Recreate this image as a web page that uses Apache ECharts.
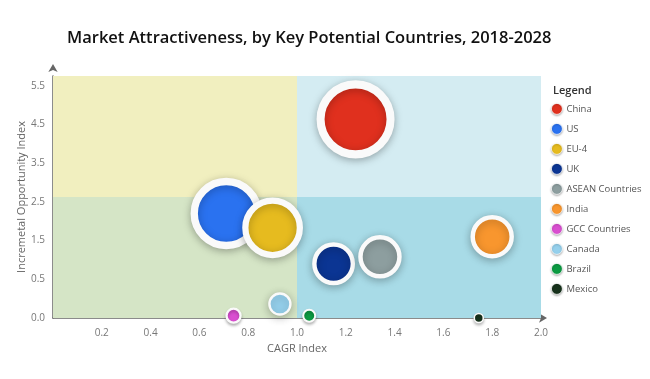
<!DOCTYPE html>
<html>
<head>
<meta charset="utf-8">
<script src="https://cdn.jsdelivr.net/npm/echarts@6/dist/echarts.min.js"></script>
<style>html,body{margin:0;padding:0;background:#fff}#c{width:650px;height:379px}</style>
</head>
<body>
<div id="c"></div>
<script>
// ---- data ----
const countries = ['China','US','EU-4','UK','ASEAN Countries','India','GCC Countries','Canada','Brazil','Mexico'];
const cagrIndex = [1.24, 0.71, 0.90, 1.15, 1.34, 1.80, 0.74, 0.93, 1.05, 1.745];
const opportunityIndex = [4.63, 2.20, 1.83, 0.90, 1.08, 1.60, 0.03, 0.18, 0.03, 0.0];
const marketSize = [7.0, 6.4, 5.45, 3.85, 3.9, 3.9, 1.4, 2.1, 1.2, 0.9];
const xTickLabels = ['0.2','0.4','0.6','0.8','1.0','1.2','1.4','1.6','1.8','2.0'];
const yTickLabels = ['0.0','0.5','1.5','2.5','3.5','4.5','5.5'];

const palette = ['#e0301e','#2a72f0','#e6bb1f','#0b3593','#8d9e9f','#f8962e','#d94fd0','#95d0ec','#0c9a42','#17321c'];

// the chart's y axis is labelled 0.0, 0.5, 1.5, 2.5 ... at equal steps
function toAxisY(v){ return v <= 0.5 ? v * 2 : v + 0.5; }

const chart = echarts.init(document.getElementById('c'));
const FONT = '"Open Sans", sans-serif';

const series = [{
  name: 'quadrants',
  type: 'scatter',
  z: 0,
  silent: true,
  data: [],
  markArea: {
    silent: true,
    itemStyle: { opacity: 1 },
    data: [
      [{ xAxis: 0, yAxis: 3.125, itemStyle: { color: '#f1efbf', opacity: 1 } }, { xAxis: 1, yAxis: 6.25 }],
      [{ xAxis: 1, yAxis: 3.125, itemStyle: { color: '#d4ecf2', opacity: 1 } }, { xAxis: 2, yAxis: 6.25 }],
      [{ xAxis: 0, yAxis: 0, itemStyle: { color: '#d5e5c6', opacity: 1 } }, { xAxis: 1, yAxis: 3.125 }],
      [{ xAxis: 1, yAxis: 0, itemStyle: { color: '#a8dbe7', opacity: 1 } }, { xAxis: 2, yAxis: 3.125 }]
    ]
  }
}];

countries.forEach((name, i) => {
  const s = marketSize[i] * 10;
  const bw = s >= 20 ? s * 0.115 : Math.max(1.5, s * 0.17);
  series.push({
    name: name,
    type: 'scatter',
    z: 5,
    clip: false,
    symbol: 'circle',
    symbolSize: s,
    data: [[cagrIndex[i], toAxisY(opportunityIndex[i])]],
    itemStyle: {
      color: palette[i],
      opacity: 1,
      borderColor: '#fafafa',
      borderWidth: bw,
      shadowBlur: s > 20 ? 8 : 3,
      shadowColor: 'rgba(0,0,0,0.25)',
      shadowOffsetY: 2
    },
    emphasis: { disabled: true }
  });
});

chart.setOption({
  animation: false,
  backgroundColor: '#ffffff',
  color: palette,
  title: [
    {
      text: 'Market Attractiveness, by Key Potential Countries, 2018-2028',
      left: 62,
      top: 25,
      textStyle: { fontFamily: FONT, fontWeight: 600, fontSize: 16.5, color: '#111' }
    },
    {
      text: 'Legend',
      left: 548,
      top: 80,
      textStyle: { fontFamily: FONT, fontWeight: 600, fontSize: 11, color: '#333' }
    }
  ],
  legend: {
    orient: 'vertical',
    left: 546,
    top: 98,
    itemWidth: 11,
    itemHeight: 11,
    itemGap: 8.2,
    icon: 'circle',
    data: countries,
    itemStyle: { borderWidth: 0.8, borderColor: '#fff', shadowBlur: 2, shadowColor: 'rgba(0,0,0,0.3)', shadowOffsetY: 1 },
    textStyle: { fontFamily: FONT, fontSize: 9.5, color: '#555', padding: [0, 0, 0, -1] }
  },
  grid: { left: 53, right: 109, top: 76, bottom: 61, containLabel: false },
  xAxis: {
    type: 'value',
    min: 0,
    max: 2,
    interval: 0.2,
    name: 'CAGR Index',
    nameLocation: 'middle',
    nameGap: 25,
    nameMoveOverlap: false,
    nameTextStyle: { fontFamily: FONT, fontSize: 11, color: '#666' },
    axisLine: { show: true, symbol: ['none', 'arrow'], symbolSize: [7, 8], symbolOffset: [0, 6], lineStyle: { color: '#666', width: 1.5 } },
    axisTick: { show: false },
    splitLine: { show: false },
    axisLabel: {
      showMinLabel: false,
      margin: 10,
      fontFamily: FONT, fontSize: 10, color: '#777',
      formatter: function (v) { const k = Math.round(v / 0.2) - 1; return (Math.abs(v / 0.2 - Math.round(v / 0.2)) < 1e-6 && k >= 0) ? xTickLabels[k] : ''; }
    }
  },
  yAxis: {
    type: 'value',
    min: 0,
    max: 6.25,
    interval: 1,
    name: 'Incremetal Opportunity Index',
    nameLocation: 'middle',
    nameGap: 26,
    nameMoveOverlap: false,
    nameTextStyle: { fontFamily: FONT, fontSize: 11, color: '#666' },
    axisLine: { show: true, symbol: ['none', 'arrow'], symbolSize: [7, 8], symbolOffset: [0, 12], lineStyle: { color: '#666', width: 1.5 } },
    axisTick: { show: false },
    splitLine: { show: false },
    axisLabel: {
      showMaxLabel: true,
      margin: 8,
      fontFamily: FONT, fontSize: 10, color: '#777',
      formatter: function (v) { return Number.isInteger(v) && yTickLabels[v] !== undefined ? yTickLabels[v] : ''; }
    }
  },
  series: series
});
</script>
</body>
</html>
